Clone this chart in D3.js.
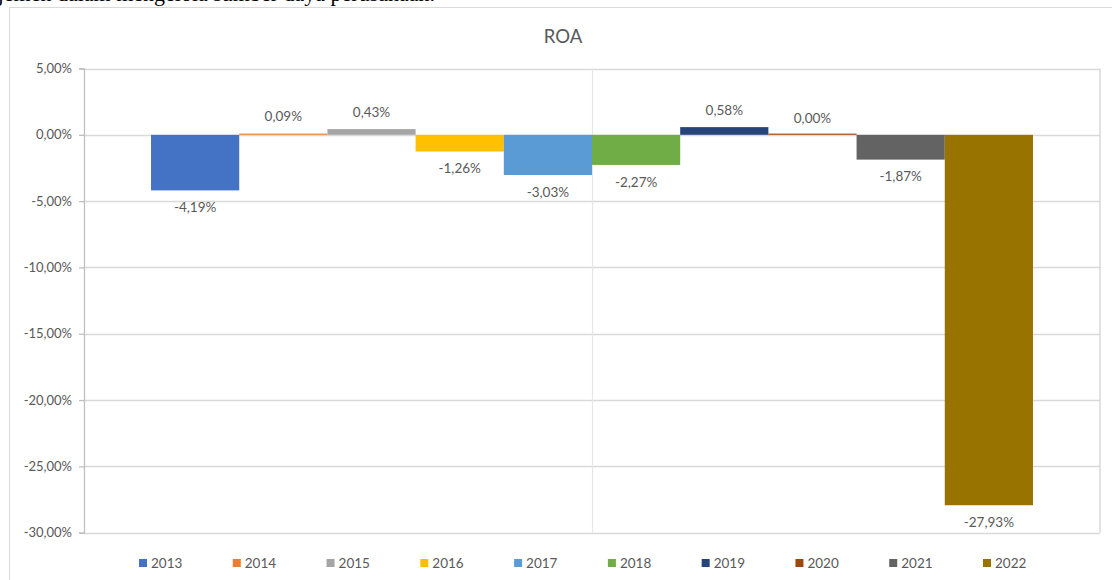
<!DOCTYPE html>
<html>
<head>
<meta charset="utf-8">
<script src="https://cdn.jsdelivr.net/npm/d3@7"></script>
<style>
  html, body { margin: 0; padding: 0; background: #fff; overflow: hidden; }
  svg { display: block; }
</style>
</head>
<body>
<svg id="chart" width="1112" height="580"></svg>
<script>
const years = ["2013","2014","2015","2016","2017","2018","2019","2020","2021","2022"];
const roaValues = [-4.19, 0.09, 0.43, -1.26, -3.03, -2.27, 0.58, 0.00, -1.87, -27.93];
const roaLabels = ["-4,19%","0,09%","0,43%","-1,26%","-3,03%","-2,27%","0,58%","0,00%","-1,87%","-27,93%"];
const seriesColors = ["#4472C4","#ED7D31","#A5A5A5","#FFC000","#5B9BD5","#70AD47","#264478","#9E480E","#636363","#997300"];
const yTicks = [5, 0, -5, -10, -15, -20, -25, -30];
const yTickLabels = ["5,00%","0,00%","-5,00%","-10,00%","-15,00%","-20,00%","-25,00%","-30,00%"];

const svg = d3.select("#chart");
const font = "Lato, 'Open Sans', sans-serif";
const textColor = "#595959";

// cut-off document text above the chart (as in the reference screenshot)
svg.append("text")
  .attr("x", -50).attr("y", 1)
  .attr("font-family", "'Liberation Serif', 'DejaVu Serif', serif")
  .attr("font-size", 22)
  .attr("fill", "#000")
  .text("manajemen dalam mengelola sumber daya perusahaan.");

// chart border
svg.append("rect")
  .attr("x", 9.5).attr("y", 7.5).attr("width", 1120).attr("height", 600)
  .attr("fill", "none").attr("stroke", "#d9d9d9").attr("stroke-width", 1);

// title
svg.append("text")
  .attr("x", 563).attr("y", 43)
  .attr("text-anchor", "middle")
  .attr("font-family", font).attr("font-size", 18.5)
  .attr("fill", textColor)
  .text("ROA");

const plotLeft = 84, plotRight = 1100, plotTop = 68.5, plotBottom = 532.7;

const y = d3.scaleLinear().domain([-30, 5]).range([plotBottom, plotTop]);
const x = d3.scaleBand().domain(years).range([plotLeft, plotRight]).paddingInner(0).paddingOuter(0.76);

// gridlines
svg.append("g").selectAll("line").data(yTicks).join("line")
  .attr("x1", plotLeft).attr("x2", plotRight)
  .attr("y1", d => Math.round(y(d)) + 0.5).attr("y2", d => Math.round(y(d)) + 0.5)
  .attr("stroke", "#d9d9d9").attr("stroke-width", 1.3);

// vertical lines (center and right edge)
svg.append("line")
  .attr("x1", 592.5).attr("x2", 592.5).attr("y1", plotTop).attr("y2", plotBottom)
  .attr("stroke", "#e6e6e6").attr("stroke-width", 1.2);
svg.append("line")
  .attr("x1", plotRight).attr("x2", plotRight).attr("y1", plotTop).attr("y2", plotBottom)
  .attr("stroke", "#d9d9d9").attr("stroke-width", 1.5);

// y axis
const yAxis = d3.axisLeft(y).tickValues(yTicks)
  .tickFormat((d, i) => yTickLabels[i]).tickSize(5).tickPadding(7);
const gy = svg.append("g").attr("transform", `translate(${plotLeft},0)`).call(yAxis);
gy.select(".domain").attr("stroke", "#bfbfbf").attr("stroke-width", 1.3);
gy.selectAll(".tick line").attr("stroke", "#bfbfbf").attr("stroke-width", 1.3);
gy.selectAll(".tick text").attr("font-family", font).attr("font-size", 13).attr("fill", textColor);

// bars
svg.append("g").selectAll("rect").data(years).join("rect")
  .attr("x", d => x(d))
  .attr("width", x.bandwidth())
  .attr("y", (d, i) => {
    const v = roaValues[i];
    const h = Math.max(Math.abs(y(v) - y(0)), 1.2);
    return v >= 0 ? y(0) - h : y(0);
  })
  .attr("height", (d, i) => Math.max(Math.abs(y(roaValues[i]) - y(0)), 1.2))
  .attr("fill", (d, i) => seriesColors[i]);

// data labels
svg.append("g").selectAll("text").data(years).join("text")
  .attr("x", d => x(d) + x.bandwidth() / 2)
  .attr("y", (d, i) => {
    const v = roaValues[i];
    return v >= 0 ? y(v) - 17 : y(v) + 17;
  })
  .attr("dy", "0.35em")
  .attr("text-anchor", "middle")
  .attr("font-family", font).attr("font-size", 13.5)
  .attr("fill", textColor)
  .text((d, i) => roaLabels[i]);

// legend
const legendX = d3.scalePoint().domain(years).range([139, 983]);
const lg = svg.append("g").selectAll("g").data(years).join("g")
  .attr("transform", d => `translate(${legendX(d)},563)`);
lg.append("rect").attr("x", 0).attr("y", -4).attr("width", 8).attr("height", 8)
  .attr("fill", (d, i) => seriesColors[i]);
lg.append("text").attr("x", 12).attr("y", 0).attr("dy", "0.35em")
  .attr("font-family", font).attr("font-size", 13.5).attr("fill", textColor)
  .text(d => d);
</script>
</body>
</html>
